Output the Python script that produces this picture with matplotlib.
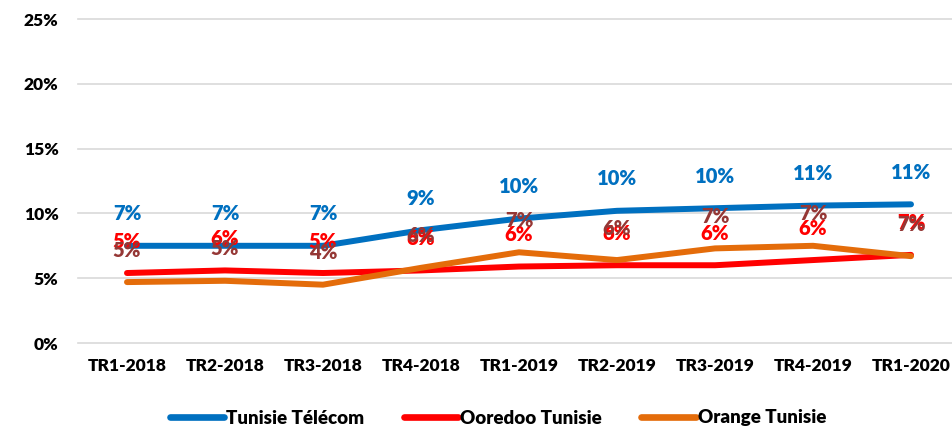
import matplotlib
matplotlib.use("Agg")
import matplotlib.pyplot as plt
from matplotlib.ticker import FuncFormatter

categories = ["TR1-2018", "TR2-2018", "TR3-2018", "TR4-2018", "TR1-2019",
              "TR2-2019", "TR3-2019", "TR4-2019", "TR1-2020"]
series_names = ["Tunisie Télécom", "Ooredoo Tunisie", "Orange Tunisie"]
tt_values = [7.5, 7.5, 7.5, 8.7, 9.6, 10.2, 10.4, 10.6, 10.7]
oo_values = [5.4, 5.6, 5.4, 5.6, 5.9, 6.0, 6.0, 6.4, 6.8]
or_values = [4.7, 4.8, 4.5, 5.8, 7.0, 6.4, 7.3, 7.5, 6.7]
tt_labels = ["7%", "7%", "7%", "9%", "10%", "10%", "10%", "11%", "11%"]
oo_labels = ["5%", "6%", "5%", "6%", "6%", "6%", "6%", "6%", "7%"]
or_labels = ["5%", "5%", "4%", "6%", "7%", "6%", "7%", "7%", "7%"]
y_ticks = [0, 5, 10, 15, 20, 25]

line_colors = ["#0070C0", "#FF0000", "#E46C0A"]
label_colors = ["#0070C0", "#FF0000", "#953735"]

plt.rcParams["font.family"] = ["Lato", "DejaVu Sans"]

W, H = 953, 429
fig = plt.figure(figsize=(W / 100, H / 100), dpi=100)
left, right, bottom, top = 78, 953, H - 343, H - 19
ax = fig.add_axes([left / W, bottom / H, (right - left) / W, (top - bottom) / H])

x = list(range(len(categories)))
data = [tt_values, oo_values, or_values]
labels = [tt_labels, oo_labels, or_labels]

for vals, name, lc in zip(data, series_names, line_colors):
    ax.plot(x, vals, color=lc, lw=4.3, solid_capstyle="round", label=name, zorder=3)

for vals, labs, tc in zip(data, labels, label_colors):
    for xi, v, lab in zip(x, vals, labs):
        ax.annotate(lab, (xi, v), xytext=(0, 23), textcoords="offset points",
                    ha="center", va="center", color=tc, fontsize=14.5,
                    fontweight="heavy", zorder=4)

ax.set_xlim(-0.5, -0.5 + (right - left) / 98.0)
ax.set_ylim(0, 25)
ax.set_yticks(y_ticks)
ax.yaxis.set_major_formatter(FuncFormatter(lambda v, p: f"{v:.0f}%"))
ax.set_xticks(x)
ax.set_xticklabels(categories)
for lab in ax.get_xticklabels() + ax.get_yticklabels():
    lab.set_fontweight("heavy")
    lab.set_fontsize(12.5)
    lab.set_color("black")
ax.tick_params(axis="both", length=0)
ax.tick_params(axis="x", pad=11)
ax.tick_params(axis="y", pad=14)
ax.grid(axis="y", color="#D9D9D9", lw=1.2, clip_on=False)
ax.set_axisbelow(True)
for s in ax.spines.values():
    s.set_visible(False)

leg = fig.legend(loc="center", bbox_to_anchor=(498 / W, 1 - 418 / H), ncol=3,
                 frameon=False, handlelength=2.9, columnspacing=2.1,
                 handletextpad=0.1, prop={"weight": "heavy", "size": 13.5})
for h in leg.get_lines():
    h.set_linewidth(4.8)

fig.savefig("out.png", dpi=100, facecolor="white")
